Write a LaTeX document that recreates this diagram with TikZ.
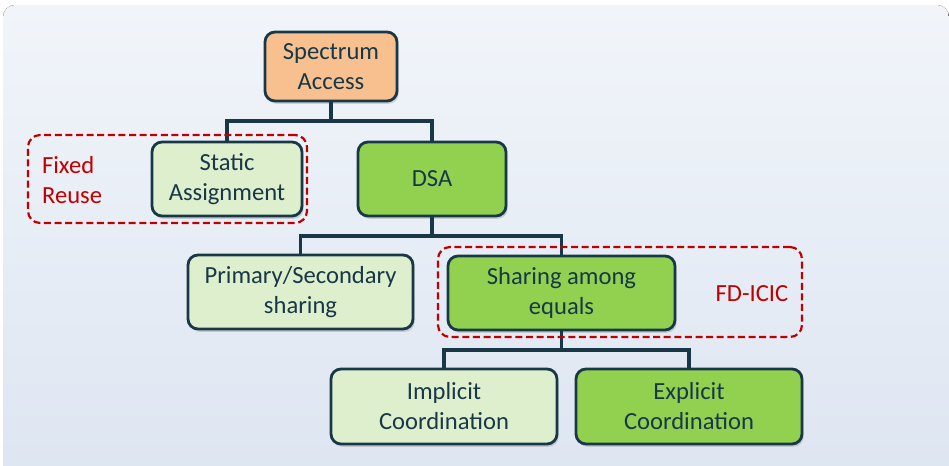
\documentclass[tikz,border=0pt]{standalone}
\usepackage{fontspec}
\setmainfont{Carlito}
\usetikzlibrary{positioning,shadows}
\definecolor{Slate}{RGB}{24,56,72}
\definecolor{Peach}{RGB}{249,192,143}
\definecolor{Mint}{RGB}{222,239,205}
\definecolor{Leaf}{RGB}{146,208,80}
\definecolor{Brick}{RGB}{192,0,0}
\definecolor{SkyTop}{RGB}{241,245,250}
\definecolor{SkyBottom}{RGB}{221,229,241}

\begin{document}
\begin{tikzpicture}[x=0.5pt,y=-0.5pt,
    box/.style={rectangle,rounded corners=5pt,draw=Slate,line width=1.4pt,text=Slate,align=center,
        font=\fontsize{12.3}{15}\selectfont,drop shadow={opacity=0.3,shadow xshift=0.8pt,shadow yshift=-1.4pt}},
    rootbox/.style={box,fill=Peach},
    lightbox/.style={box,fill=Mint},
    greenbox/.style={box,fill=Leaf},
    group/.style={rectangle,rounded corners=6pt,draw=Brick,line width=1.1pt,dash pattern=on 3.5pt off 1.8pt},
    grouplabel/.style={text=Brick,font=\fontsize{12.3}{15}\selectfont},
    tree/.style={draw=Slate,line width=1.7pt}
]

\useasboundingbox (0,0) rectangle (949,466);
\fill[top color=SkyTop,bottom color=SkyBottom,rounded corners=6pt] (3,5) rectangle (949,490);

% Root
\node[rootbox,minimum width=66pt,minimum height=34.5pt] (spectrum) at (331,66.5) {Spectrum\\Access};

% Second level
\node[lightbox,minimum width=75pt,minimum height=37pt] (static) at (227,179) {Static\\Assignment};
\node[greenbox,minimum width=74pt,minimum height=37pt] (dsa) at (432,179) {DSA};

\coordinate (split-root) at (331,121);
\draw[tree] (spectrum) -- (split-root);
\draw[tree] (split-root) -| (static);
\draw[tree] (split-root) -| (dsa);

% Third level
\node[lightbox,minimum width=112.5pt,minimum height=37pt] (primary) at (300.5,292) {Primary/Secondary\\sharing};
\node[greenbox,minimum width=113.5pt,minimum height=37pt] (equals) at (561.5,293) {Sharing among\\equals};

\coordinate (split-dsa) at (432,236);
\draw[tree] (dsa) -- (split-dsa);
\draw[tree] (split-dsa) -| (primary);
\draw[tree] (split-dsa) -| (equals);

% Fourth level
\node[lightbox,minimum width=113pt,minimum height=37.5pt] (implicit) at (444,406.5) {Implicit\\Coordination};
\node[greenbox,minimum width=113pt,minimum height=37.5pt] (explicit) at (689,406.5) {Explicit\\Coordination};

\coordinate (split-equals) at (561.5,350);
\draw[tree] (equals) -- (split-equals);
\draw[tree] (split-equals) -| (implicit);
\draw[tree] (split-equals) -| (explicit);

% Dashed groups
\node[group,minimum width=139.5pt,minimum height=44pt] (fixed-box) at (167.5,179) {};
\node[grouplabel,anchor=west,align=left] (fixed-label) at (35,180) {Fixed\\Reuse};

\node[group,minimum width=182pt,minimum height=45pt] (icic-box) at (620,292) {};
\node[grouplabel] (icic-label) at (752,294) {FD-ICIC};

\end{tikzpicture}
\end{document}
